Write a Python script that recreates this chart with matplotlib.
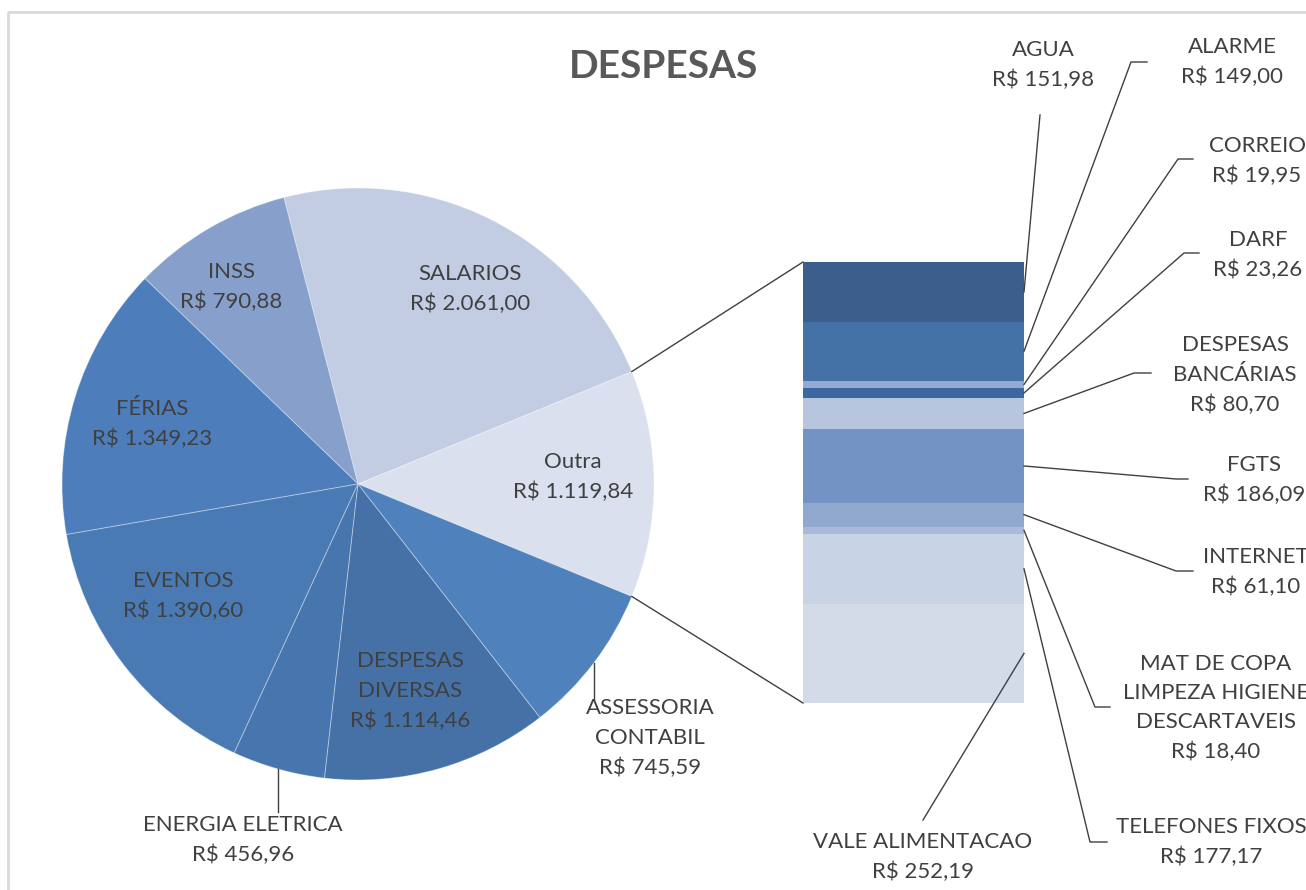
import numpy as np
import matplotlib.pyplot as plt

plt.rcParams['font.family'] = ['Lato', 'DejaVu Sans']

# detail of "Outra" (bar, top to bottom)
bar_labels = ['AGUA', 'ALARME', 'CORREIO', 'DARF', 'DESPESAS\nBANCÁRIAS', 'FGTS', 'INTERNET',
              'MAT DE COPA\nLIMPEZA HIGIENE\nDESCARTAVEIS', 'TELEFONES FIXOS', 'VALE ALIMENTACAO']
bar_values = [151.98, 149.00, 19.95, 23.26, 80.70, 186.09, 61.10, 18.40, 177.17, 252.19]
bar_colors = ['#3B5E8D', '#4472A6', '#95AAD1', '#3D67A0', '#B8C5DF',
              '#7393C5', '#91A8CF', '#A8B9DA', '#C9D3E6', '#D3DBE9']

# main pie, starting with Outra and going counterclockwise
pie_labels = ['Outra', 'SALARIOS', 'INSS', 'FÉRIAS', 'EVENTOS', 'ENERGIA ELETRICA',
              'DESPESAS\nDIVERSAS', 'ASSESSORIA\nCONTABIL']
pie_values = [sum(bar_values), 2061.00, 790.88, 1349.23, 1390.60, 456.96, 1114.46, 745.59]
pie_colors = ['#DAE0ED', '#C2CDE3', '#86A0CB', '#4D7EBB', '#4A7AB4', '#4776AE', '#4571A6', '#4F81BD']

W, H = 1306, 890
TXT = '#404040'
FS = 16
LS = 1.58


def py(y):
    return H - y


def brl(v):
    s = f'{v:,.2f}'
    return 'R$ ' + s.replace(',', '_').replace('.', ',').replace('_', '.')


fig = plt.figure(figsize=(W / 100, H / 100), dpi=100)
ax = fig.add_axes([0, 0, 1, 1])
ax.set_zorder(2)

# pie
cx, cy, R = 358, py(484), 296
total = sum(pie_values)
start = -360 * pie_values[0] / total / 2
wedges, _ = ax.pie(pie_values, colors=pie_colors, startangle=start, counterclock=True,
                   center=(cx, cy), radius=R, frame=True,
                   wedgeprops=dict(edgecolor=(1, 1, 1, 0.35), linewidth=0.7))
ax.set_xlim(0, W)
ax.set_ylim(0, H)
ax.axis('off')

# pie labels (inside ones), positions in pixels
inside_pos = {0: (573, 477), 1: (470, 289), 2: (231, 287), 3: (152, 424),
              4: (183, 596), 6: (410, 691)}
for i, (x, y) in inside_pos.items():
    ax.text(x, py(y), pie_labels[i] + '\n' + brl(pie_values[i]), ha='center', va='center',
            fontsize=FS, color=TXT, linespacing=LS)

# outside pie labels with vertical leaders
outside = {7: (650, 738, 700), 5: (243, 840, 812)}
for i, (x, y, yend) in outside.items():
    w = wedges[i]
    a = np.deg2rad((w.theta1 + w.theta2) / 2)
    sx, sy = cx + R * np.cos(a), cy + R * np.sin(a)
    ax.plot([sx, sx], [sy, py(yend)], color=TXT, lw=1)
    ax.text(x, py(y), pie_labels[i] + '\n' + brl(pie_values[i]), ha='center', va='center',
            fontsize=FS, color=TXT, linespacing=LS)

# bar of "Outra"
bax = fig.add_axes([803 / W, (H - 703) / H, 221 / W, 441 / H])
bax.set_zorder(1)
bottoms = np.concatenate([[0], np.cumsum(bar_values)[:-1]])
bax.bar(0, bar_values, bottom=bottoms, width=1, color=bar_colors)
bax.set_xlim(-0.5, 0.5)
bax.set_ylim(sum(bar_values), 0)
bax.axis('off')


def bar_to_main(x, y):
    d = bax.transData.transform((x, y))
    return ax.transData.inverted().transform(d)


# connector lines pie -> bar
w0 = wedges[0]
for th, yb in [(w0.theta2, 0), (w0.theta1, sum(bar_values))]:
    a = np.deg2rad(th)
    px0, py0 = cx + R * np.cos(a), cy + R * np.sin(a)
    bx, by = bar_to_main(-0.5, yb)
    ax.plot([px0, bx], [py0, by], color=TXT, lw=1)

# bar labels: leader path points and text centres (pixels)
bar_leader = [[(1040, 115)],
              [(1131, 62), (1147, 62)],
              [(1178, 159), (1193, 159)],
              [(1184, 253), (1199, 253)],
              [(1134, 373), (1151, 373)],
              [(1176, 479), (1188, 479)],
              [(1176, 571), (1193, 571)],
              [(1095, 707), (1110, 707)],
              [(1090, 842), (1107, 842)],
              [(923, 820)]]
bar_text = [(1043, 65), (1232, 62), (1257, 161), (1258, 255), (1235, 375),
            (1254, 480), (1256, 572), (1216, 708), (1211, 842), (923, 857)]
for i in range(len(bar_values)):
    sx, sy = bar_to_main(0.5, bottoms[i] + bar_values[i] / 2)
    xs = [sx] + [p[0] for p in bar_leader[i]]
    ys = [sy] + [py(p[1]) for p in bar_leader[i]]
    ax.plot(xs, ys, color=TXT, lw=1)
    tx, ty = bar_text[i]
    ax.text(tx, py(ty), bar_labels[i] + '\n' + brl(bar_values[i]), ha='center', va='center',
            fontsize=FS, color=TXT, linespacing=LS)

# title and chart border
ax.text(663, py(66), 'DESPESAS', ha='center', va='center', fontsize=28,
        fontweight='bold', color='#595959')
ax.plot([8, 8, W + 10], [-10, py(12), py(12)], color='#D9D9D9', lw=2)

fig.savefig('out.png', dpi=100)
